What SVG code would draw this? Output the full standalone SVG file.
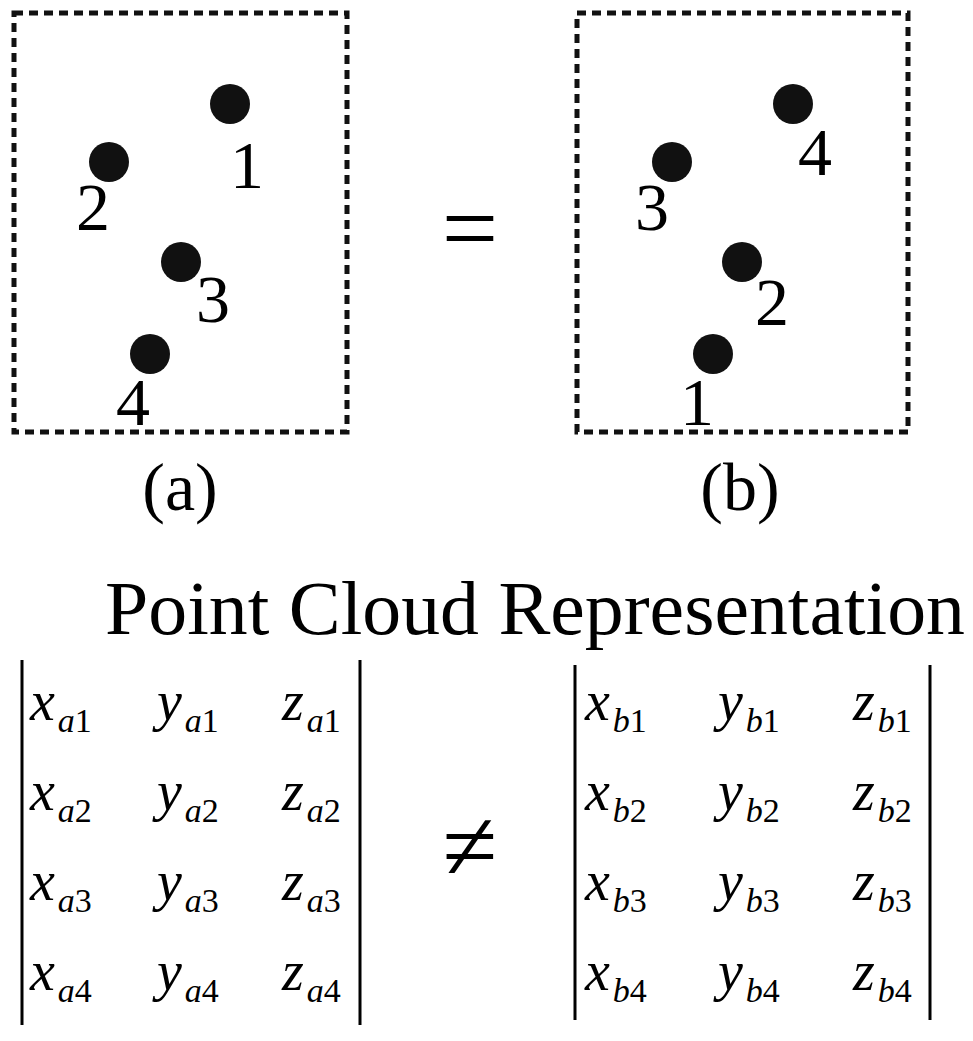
<svg xmlns="http://www.w3.org/2000/svg" width="973" height="1041" viewBox="0 0 973 1041">
<style>
.box{fill:none;stroke:#111;stroke-width:5;stroke-dasharray:9 6}
.dot{fill:#111}
.t{font-family:"Liberation Serif",serif;fill:#000}
.n{font-size:68px}
.v{font-size:56px;font-style:italic}
.s{font-size:34px}
.bar{stroke:#000;stroke-width:3}
</style>
<rect width="973" height="1041" fill="#fff"/>
<g id="panelA">
<rect class="box" x="14" y="13" width="333" height="419"/>
<circle class="dot" cx="230" cy="104" r="20"/><text class="t n" x="230" y="188">1</text>
<circle class="dot" cx="109" cy="162" r="20"/><text class="t n" x="76" y="230">2</text>
<circle class="dot" cx="181" cy="262" r="20"/><text class="t n" x="196" y="322">3</text>
<circle class="dot" cx="150" cy="354" r="20"/><text class="t n" x="116" y="425">4</text>
<text class="t n" x="180" y="510" text-anchor="middle">(a)</text>
</g>
<g id="panelB">
<rect class="box" x="577" y="13" width="331" height="419"/>
<circle class="dot" cx="793" cy="104" r="20"/><text class="t n" x="798" y="175">4</text>
<circle class="dot" cx="672" cy="162" r="20"/><text class="t n" x="635" y="230">3</text>
<circle class="dot" cx="742" cy="262" r="20"/><text class="t n" x="755" y="325">2</text>
<circle class="dot" cx="713" cy="354" r="20"/><text class="t n" x="680" y="425">1</text>
<text class="t n" x="740" y="510" text-anchor="middle">(b)</text>
</g>
<text class="t" font-size="100" x="470" y="262" text-anchor="middle">=</text>
<text class="t" x="105" y="634" font-size="76" textLength="860" lengthAdjust="spacingAndGlyphs">Point Cloud Representation</text>
<g id="matA">
<line class="bar" x1="22" y1="660" x2="22" y2="1025"/><line class="bar" x1="360" y1="660" x2="360" y2="1025"/>
<g class="t">
<text x="30" y="720"><tspan class="v">x</tspan><tspan class="s" dx="3" dy="12"><tspan font-style="italic">a</tspan>1</tspan></text>
<text x="157" y="720"><tspan class="v">y</tspan><tspan class="s" dx="3" dy="12"><tspan font-style="italic">a</tspan>1</tspan></text>
<text x="282" y="720"><tspan class="v">z</tspan><tspan class="s" dx="3" dy="12"><tspan font-style="italic">a</tspan>1</tspan></text>
<text x="30" y="810"><tspan class="v">x</tspan><tspan class="s" dx="3" dy="12"><tspan font-style="italic">a</tspan>2</tspan></text>
<text x="157" y="810"><tspan class="v">y</tspan><tspan class="s" dx="3" dy="12"><tspan font-style="italic">a</tspan>2</tspan></text>
<text x="282" y="810"><tspan class="v">z</tspan><tspan class="s" dx="3" dy="12"><tspan font-style="italic">a</tspan>2</tspan></text>
<text x="30" y="900"><tspan class="v">x</tspan><tspan class="s" dx="3" dy="12"><tspan font-style="italic">a</tspan>3</tspan></text>
<text x="157" y="900"><tspan class="v">y</tspan><tspan class="s" dx="3" dy="12"><tspan font-style="italic">a</tspan>3</tspan></text>
<text x="282" y="900"><tspan class="v">z</tspan><tspan class="s" dx="3" dy="12"><tspan font-style="italic">a</tspan>3</tspan></text>
<text x="30" y="990"><tspan class="v">x</tspan><tspan class="s" dx="3" dy="12"><tspan font-style="italic">a</tspan>4</tspan></text>
<text x="157" y="990"><tspan class="v">y</tspan><tspan class="s" dx="3" dy="12"><tspan font-style="italic">a</tspan>4</tspan></text>
<text x="282" y="990"><tspan class="v">z</tspan><tspan class="s" dx="3" dy="12"><tspan font-style="italic">a</tspan>4</tspan></text>
</g>
</g>
<text class="t" font-size="100" x="470" y="880" text-anchor="middle">≠</text>
<g id="matB">
<line class="bar" x1="575" y1="665" x2="575" y2="1020"/><line class="bar" x1="930" y1="665" x2="930" y2="1020"/>
<g class="t">
<text x="585" y="720"><tspan class="v">x</tspan><tspan class="s" dx="3" dy="12"><tspan font-style="italic">b</tspan>1</tspan></text>
<text x="718" y="720"><tspan class="v">y</tspan><tspan class="s" dx="3" dy="12"><tspan font-style="italic">b</tspan>1</tspan></text>
<text x="853" y="720"><tspan class="v">z</tspan><tspan class="s" dx="3" dy="12"><tspan font-style="italic">b</tspan>1</tspan></text>
<text x="585" y="810"><tspan class="v">x</tspan><tspan class="s" dx="3" dy="12"><tspan font-style="italic">b</tspan>2</tspan></text>
<text x="718" y="810"><tspan class="v">y</tspan><tspan class="s" dx="3" dy="12"><tspan font-style="italic">b</tspan>2</tspan></text>
<text x="853" y="810"><tspan class="v">z</tspan><tspan class="s" dx="3" dy="12"><tspan font-style="italic">b</tspan>2</tspan></text>
<text x="585" y="900"><tspan class="v">x</tspan><tspan class="s" dx="3" dy="12"><tspan font-style="italic">b</tspan>3</tspan></text>
<text x="718" y="900"><tspan class="v">y</tspan><tspan class="s" dx="3" dy="12"><tspan font-style="italic">b</tspan>3</tspan></text>
<text x="853" y="900"><tspan class="v">z</tspan><tspan class="s" dx="3" dy="12"><tspan font-style="italic">b</tspan>3</tspan></text>
<text x="585" y="990"><tspan class="v">x</tspan><tspan class="s" dx="3" dy="12"><tspan font-style="italic">b</tspan>4</tspan></text>
<text x="718" y="990"><tspan class="v">y</tspan><tspan class="s" dx="3" dy="12"><tspan font-style="italic">b</tspan>4</tspan></text>
<text x="853" y="990"><tspan class="v">z</tspan><tspan class="s" dx="3" dy="12"><tspan font-style="italic">b</tspan>4</tspan></text>
</g>
</g>
</svg>
